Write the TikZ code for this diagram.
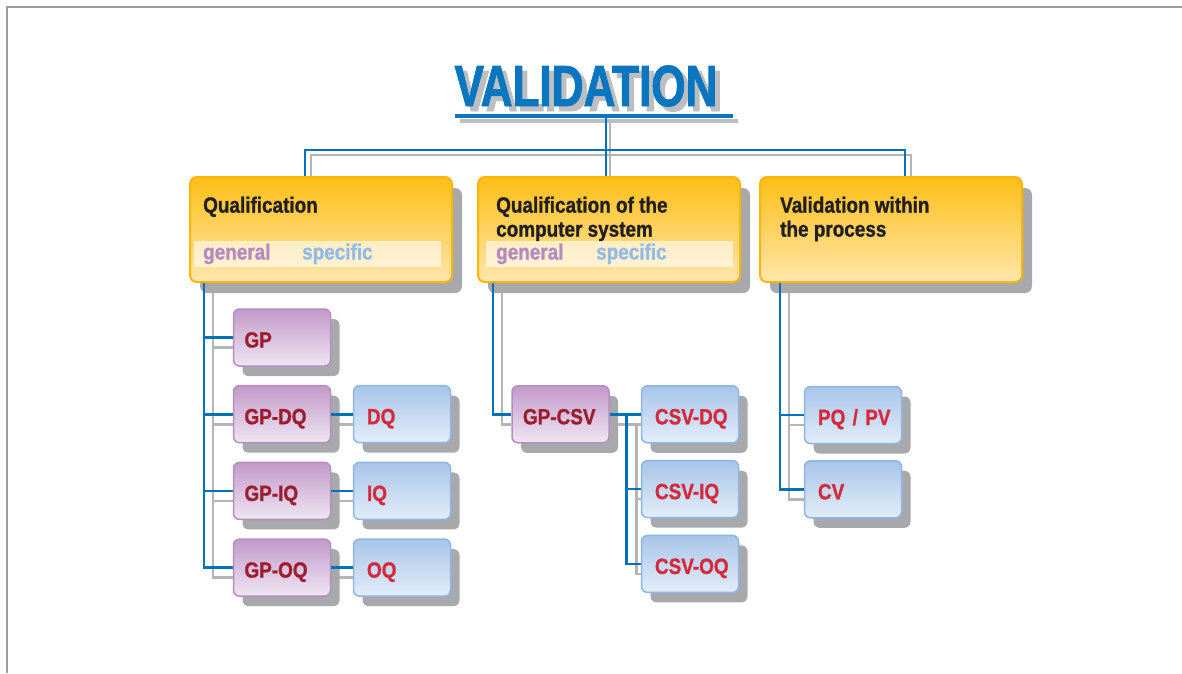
\documentclass[tikz,border=0pt]{standalone}
\usepackage{fontspec}
\setmainfont{Liberation Sans}[FakeStretch=0.86, BoldFeatures={FakeBold=1.2}]
\newfontfamily\titlefont{Liberation Sans}[FakeStretch=0.76, BoldFeatures={FakeBold=1.5}]
\usetikzlibrary{calc}
\usetikzlibrary{positioning}
\usetikzlibrary{shadows}
\pgfdeclarelayer{background}
\pgfsetlayers{background,main}
\definecolor{headtop}{HTML}{FDBF16}
\definecolor{headbot}{HTML}{FFE6AC}
\definecolor{headborder}{HTML}{F9B50A}
\definecolor{purtop}{HTML}{C29ACA}
\definecolor{purbot}{HTML}{EFE6F2}
\definecolor{purborder}{HTML}{B68DC0}
\definecolor{blutop}{HTML}{A8C5E9}
\definecolor{blubot}{HTML}{E3EDF9}
\definecolor{bluborder}{HTML}{8FB6E3}
\definecolor{lineblue}{HTML}{0072BC}
\definecolor{linegrey}{HTML}{B3B5B8}
\definecolor{shadowgrey}{HTML}{A7A9AC}
\definecolor{framegrey}{HTML}{9C9EA1}
\definecolor{darktext}{HTML}{231F20}
\definecolor{gptext}{HTML}{9D1D2F}
\definecolor{qtext}{HTML}{D42A3C}
\definecolor{gentext}{HTML}{B48AC0}
\definecolor{spectext}{HTML}{94BBE6}
\definecolor{titleblue}{HTML}{0A76C0}
\definecolor{titleshade}{HTML}{BDBEC0}
\tikzstyle{headbox} = [draw=headborder, line width=2pt, rounded corners=7pt, top color=headtop, bottom color=headbot, minimum width=262pt, minimum height=105pt, drop shadow={shadow xshift=10pt, shadow yshift=-11pt, fill=shadowgrey, opacity=1}]
\tikzstyle{smallbox} = [line width=1.5pt, rounded corners=6pt, minimum width=97pt, minimum height=57pt, text width=79pt, inner xsep=9pt, align=left, text height=20pt, text depth=0pt, font=\fontsize{22}{24}\selectfont\bfseries, drop shadow={shadow xshift=9pt, shadow yshift=-10pt, fill=shadowgrey, opacity=1}]
\tikzstyle{gpnode} = [smallbox, draw=purborder, top color=purtop, bottom color=purbot, text=gptext, execute at begin node={\hspace*{2pt}}]
\tikzstyle{qnode} = [smallbox, draw=bluborder, top color=blutop, bottom color=blubot, text=qtext, execute at begin node={\hspace*{4.5pt}}]
\tikzstyle{headtext} = [anchor=north west, inner sep=0pt, align=left, text=darktext, font=\fontsize{22}{24}\selectfont\bfseries]
\tikzstyle{subtext} = [anchor=base west, inner sep=0pt, font=\fontsize{22}{24}\selectfont\bfseries]
\tikzstyle{titletext} = [anchor=base, inner sep=0pt, font=\titlefont\fontsize{58}{60}\selectfont\bfseries]
\tikzstyle{blueline} = [draw=lineblue, line width=2.6pt]
\tikzstyle{greyline} = [draw=linegrey, line width=2.6pt]

\begin{document}
\begin{tikzpicture}[x=1pt, y=-1pt]
\useasboundingbox (0,0) rectangle (1182,673);
\draw[framegrey, line width=2.5pt] (7,673) -- (7,7) -- (1182,7);

% title
\node[titletext, text=titleshade] (title_shadow) at (591,111) {VALIDATION};
\node[titletext, text=titleblue] (title) at (586,106) {VALIDATION};
\coordinate (ul_w) at (455,116);
\coordinate (ul_e) at (733,116);
\draw[titleshade, line width=4pt] ($(ul_w)+(5,5)$) -- ($(ul_e)+(5,5)$);
\draw[titleblue, line width=4pt] (ul_w) -- (ul_e);
\coordinate (stem) at (606,117);
\coordinate (bar) at (606,150);

% main boxes
\node[headbox] (qual) at (321,229.5) {};
\node[headbox] (csq) at (609,229.5) {};
\node[headbox] (proc) at (891,229.5) {};

\node[headtext] (qual_title) at ($(qual.north west)+(14,20.5)$) {Qualification};
\fill[white, opacity=0.6] ($(qual.north west)+(5,65)$) rectangle ($(qual.north east)+(-12,91)$);
\node[subtext, text=gentext] (qual_gen) at ($(qual.north west)+(14,83.5)$) {general};
\node[subtext, text=spectext] (qual_spec) at ($(qual.north west)+(113,83.5)$) {specific};

\node[headtext] (csq_title) at ($(csq.north west)+(19,20.5)$) {Qualification of the\\computer system};
\fill[white, opacity=0.6] ($(csq.north west)+(9,65)$) rectangle ($(csq.north east)+(-8,91)$);
\node[subtext, text=gentext] (csq_gen) at ($(csq.north west)+(19,83.5)$) {general};
\node[subtext, text=spectext] (csq_spec) at ($(csq.north west)+(119,83.5)$) {specific};

\node[headtext] (proc_title) at ($(proc.north west)+(21,20.5)$) {Validation within\\the process};

% qualification column
\node[gpnode] (gp) at ($(qual.south west)+(93,54.5)$) {GP};
\node[gpnode] (gpdq) at ($(gp)+(0,76.7)$) {GP-DQ};
\node[gpnode] (gpiq) at ($(gpdq)+(0,76.7)$) {GP-IQ};
\node[gpnode] (gpoq) at ($(gpiq)+(0,76.7)$) {GP-OQ};
\node[qnode] (dq) at ($(gpdq)+(120,0)$) {DQ};
\node[qnode] (iq) at ($(gpiq)+(120,0)$) {IQ};
\node[qnode] (oq) at ($(gpoq)+(120,0)$) {OQ};

% computer system column
\node[gpnode] (gpcsv) at ($(csq.south west)+(83.5,131.3)$) {GP-CSV};
\node[qnode] (csvdq) at ($(gpcsv)+(129.5,0)$) {CSV-DQ};
\node[qnode] (csviq) at ($(csvdq)+(0,74.8)$) {CSV-IQ};
\node[qnode] (csvoq) at ($(csviq)+(0,74.8)$) {CSV-OQ};

% process column
\node[qnode] (pqpv) at ($(proc.south west)+(94,132)$) {PQ / PV};
\node[qnode] (cv) at ($(pqpv)+(0,74.3)$) {CV};

% blue connectors
\draw[blueline] (stem) -- (stem |- csq.north);
\draw[blueline] ($(qual.north west)+(116,0)$) |- (bar) -| ($(proc.north west)+(146,0)$);

\coordinate (qual_trunk) at ($(qual.south west)+(15,0)$);
\draw[blueline] (qual_trunk) |- (gpoq.west);
\foreach \n in {gp,gpdq,gpiq}
  \draw[blueline] (qual_trunk |- \n.west) -- (\n.west);
\foreach \a/\b in {gpdq/dq,gpiq/iq,gpoq/oq}
  \draw[blueline] (\a.east) -- (\b.west);

\coordinate (csq_trunk) at ($(csq.south west)+(16,0)$);
\draw[blueline] (csq_trunk) |- (gpcsv.west);
\draw[blueline] (gpcsv.east) -- (csvdq.west);
\coordinate (csv_trunk) at ($(gpcsv.east)+(17,0)$);
\draw[blueline] (csv_trunk) |- (csvoq.west);
\draw[blueline] (csv_trunk |- csviq.west) -- (csviq.west);

\coordinate (proc_trunk) at ($(proc.south west)+(21,0)$);
\draw[blueline] (proc_trunk) |- (cv.west);
\draw[blueline] (proc_trunk |- pqpv.west) -- (pqpv.west);

% grey connectors behind the shadows
\begin{pgfonlayer}{background}
\fill[white] (0,0) rectangle (1182,673);
\draw[greyline] ($(stem)+(4,4)$) -- ($(stem |- csq.north)+(4,0)$);
\draw[greyline] ($(qual.north west)+(122,0)$) |- ($(bar)+(4,5)$) -| ($(proc.north west)+(152,0)$);

\coordinate (qual_grey) at ($(qual.south west)+(24,0)$);
\draw[greyline] (qual_grey) |- ($(gpoq.west)+(0,10)$);
\foreach \n in {gp,gpdq,gpiq}
  \draw[greyline] ($(qual_grey |- \n.west)+(0,10)$) -- ($(\n.west)+(0,10)$);
\foreach \a/\b in {gpdq/dq,gpiq/iq,gpoq/oq}
  \draw[greyline] ($(\a.east)+(0,10)$) -- ($(\b.west)+(0,10)$);

\coordinate (csq_grey) at ($(csq.south west)+(25,0)$);
\draw[greyline] (csq_grey) |- ($(gpcsv.west)+(0,10)$);
\draw[greyline] ($(gpcsv.east)+(0,10)$) -- ($(csvdq.west)+(0,10)$);
\coordinate (csv_grey) at ($(gpcsv.east)+(27,10)$);
\draw[greyline] (csv_grey) |- ($(csvoq.west)+(0,10)$);
\draw[greyline] ($(csv_grey |- csviq.west)+(0,10)$) -- ($(csviq.west)+(0,10)$);

\coordinate (proc_grey) at ($(proc.south west)+(30,0)$);
\draw[greyline] (proc_grey) |- ($(cv.west)+(0,10)$);
\draw[greyline] ($(proc_grey |- pqpv.west)+(0,10)$) -- ($(pqpv.west)+(0,10)$);
\end{pgfonlayer}
\end{tikzpicture}
\end{document}
